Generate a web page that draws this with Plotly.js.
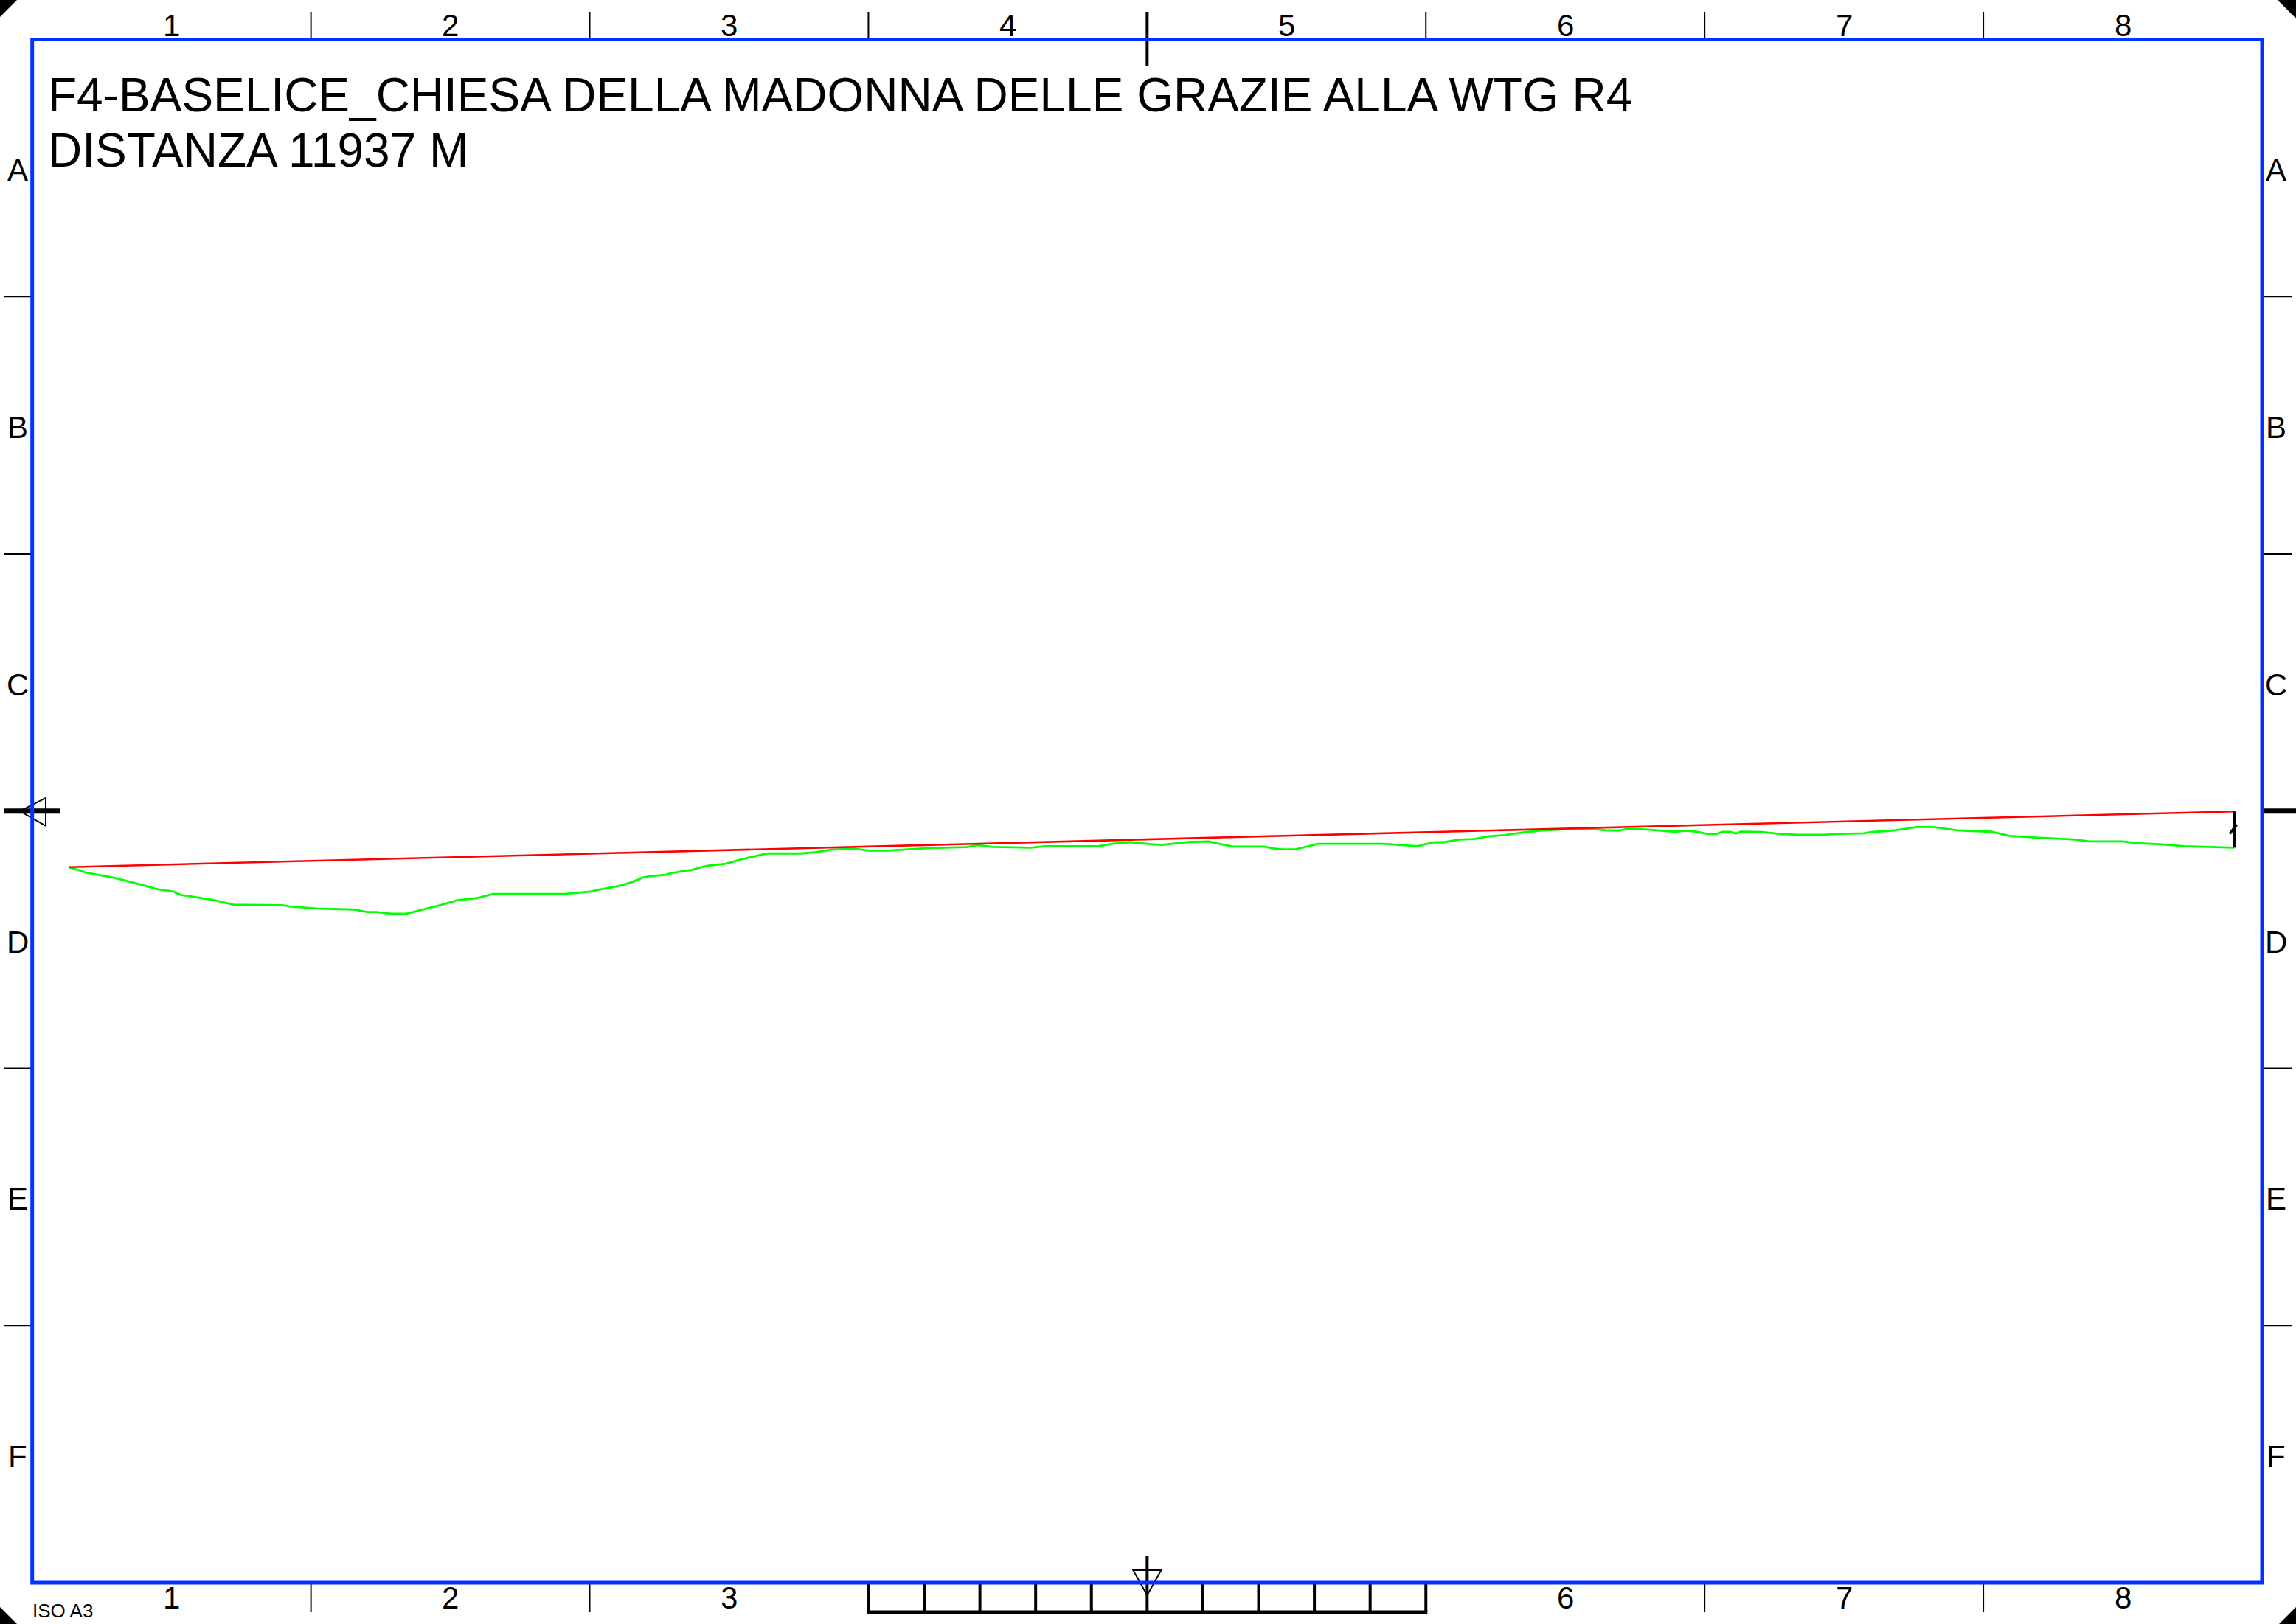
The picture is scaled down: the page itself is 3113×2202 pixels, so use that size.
<!DOCTYPE html>
<html><head><meta charset="utf-8">
<script src="https://cdn.plot.ly/plotly-3.0.1.min.js"></script>
<style>html,body{margin:0;padding:0;background:#fff;overflow:hidden}#chart{width:3113px;height:2202px}</style>
</head><body><div id="chart"></div>
<script>
// ---------- texts ----------
const titleLine1 = "F4-BASELICE_CHIESA DELLA MADONNA DELLE GRAZIE ALLA WTG R4";
const titleLine2 = "DISTANZA 11937 M";
const sheetLabel = "ISO A3";
const columnLabels = ["1","2","3","4","5","6","7","8"];
const rowLabels = ["A","B","C","D","E","F"];

// ---------- data (metres) ----------
const totalDistance = 11937;
const profileDistance = [0,97,243,346,492,575,616,699,803,906,
 1031,1176,1218,1363,1570,1643,1695,1778,1861,1944,
 2047,2141,2244,2338,2732,2800,2875,2958,3040,3103,
 3165,3206,3289,3331,3393,3435,3497,3539,3622,3704,
 3787,3850,4036,4119,4202,4327,4410,4514,4597,4742,
 4949,5011,5094,5219,5302,5385,5675,5758,5851,5966,
 6025,6088,6129,6170,6285,6336,6419,6586,6648,6689,
 6762,6814,6886,7249,7332,7436,7477,7529,7581,7623,
 7664,7747,7789,7830,7913,8017,8120,8245,8348,8431,
 8483,8546,8587,8660,8763,8857,8908,8960,9033,9085,
 9116,9158,9191,9215,9335,9435,9535,9676,9736,9896,
 9936,10057,10137,10187,10277,10338,10418,10598,10658,10698,
 10839,11059,11139,11320,11400,11540,11661,11921,11937];
const profileElevation = [615,584,557,532,492,480,462,448,432,408,
 408,405,398,387,381,367,367,358,358,378,
 405,432,443,467,467,473,480,497,513,532,
 557,565,573,584,592,600,617,625,634,657,
 676,690,690,698,711,717,706,706,711,720,
 725,736,726,722,722,730,730,744,752,741,
 737,744,747,753,756,744,728,728,717,713,
 713,726,743,743,736,730,741,752,752,761,
 767,770,779,785,791,806,817,822,828,822,
 817,817,825,825,816,810,816,812,798,798,
 809,809,800,810,808,797,793,793,797,801,
 808,817,828,836,836,828,817,810,797,787,
 778,767,757,757,747,740,730,725,722];
const observerElevation = 615;
const turbineBaseElevation = 722;
const turbineHubHeight = 122;
const turbineTipHeight = 200;

// ---------- page geometry ----------
const W = 3113, H = 2202;
const X = p => p / W, Y = p => 1 - p / H;
const fl = 43.7, fr = 3067, ft = 53.6, fb = 2146;
const colW = (fr - fl) / 8, rowH = (fb - ft) / 6;
const cx = fl + 4 * colW, cy = ft + 3 * rowH;
const BLUE = '#0033FF', BLACK = '#000000';
const FONT = 'Liberation Sans, Arial, Helvetica, sans-serif';

// data-to-pixel mapping (same scale on both axes)
const startPx = 93.4, endPx = 3029.3, startPy = 1175.7;
const pxPerM = (endPx - startPx) / totalDistance;
const xRange = [-startPx / pxPerM, (W - startPx) / pxPerM];
const yRange = [observerElevation - (H - startPy) / pxPerM, observerElevation + startPy / pxPerM];

function ln(x0, y0, x1, y1, color, width) {
  return {type:'line', xref:'paper', yref:'paper', x0:X(x0), y0:Y(y0), x1:X(x1), y1:Y(y1), line:{color:color, width:width}};
}
function poly(pts, fill, color, width) {
  const path = 'M' + pts.map(p => X(p[0]) + ',' + Y(p[1])).join('L') + 'Z';
  return {type:'path', xref:'paper', yref:'paper', path:path, fillcolor:fill, line:{color:color, width:width}};
}

const shapes = [];
for (let k = 1; k <= 7; k++) {
  const x = fl + k * colW;
  if (k === 4) shapes.push(ln(x, 16, x, 90, BLACK, 4));
  else shapes.push(ln(x, 16, x, ft, BLACK, 2));
  if (k === 1 || k === 2 || k === 6 || k === 7) shapes.push(ln(x, fb, x, 2186, BLACK, 2));
}
for (let k = 1; k <= 5; k++) {
  const y = ft + k * rowH;
  if (k === 3) continue;
  shapes.push(ln(6, y, fl, y, BLACK, 2));
  shapes.push(ln(fr, y, 3107, y, BLACK, 2));
}
// scale bar at bottom
const sb0 = fl + 3 * colW, sb1 = fl + 5 * colW;
for (let i = 0; i <= 10; i++) {
  const x = sb0 + i * (sb1 - sb0) / 10;
  if (i === 5) continue;
  shapes.push(ln(x, fb, x, 2186, BLACK, 4));
}
shapes.push(ln(sb0 - 2, 2186, sb1 + 2, 2186, BLACK, 5));
shapes.push(ln(cx, 2110, cx, 2186, BLACK, 4));
shapes.push(poly([[cx - 19, 2129], [cx + 19, 2129], [cx, 2163]], 'rgba(0,0,0,0)', BLACK, 2));
// centre row markers
shapes.push(ln(6, cy, 82, cy, BLACK, 7));
shapes.push(poly([[27, cy], [62, cy - 18], [62, cy + 20]], 'rgba(0,0,0,0)', BLACK, 2));
shapes.push(ln(fr, cy, W, cy, BLACK, 7));
// corner triangles
shapes.push(poly([[0,0],[23,0],[0,23]], BLACK, BLACK, 0));
shapes.push(poly([[W-25,0],[W,0],[W,25]], BLACK, BLACK, 0));
shapes.push(poly([[0,H-23],[0,H],[23,H]], BLACK, BLACK, 0));
shapes.push(poly([[W,H-23],[W,H],[W-23,H]], BLACK, BLACK, 0));
// blue frame
shapes.push({type:'rect', xref:'paper', yref:'paper', x0:X(fl), y0:Y(fb), x1:X(fr), y1:Y(ft), line:{color:BLUE, width:5}});

// ---------- annotations ----------
const annotations = [];
function txt(text, x, y, size, xanchor) {
  annotations.push({text:text, x:X(x), y:Y(y), xref:'paper', yref:'paper', showarrow:false,
    xanchor:xanchor || 'center', yanchor:'middle', borderpad:0,
    font:{family:FONT, size:size, color:BLACK}});
}
columnLabels.forEach((c, i) => {
  const x = fl + (i + 0.5) * colW;
  txt(c, x, 35, 42);
  if (i !== 3 && i !== 4) txt(c, x, 2166, 42);
});
rowLabels.forEach((r, i) => {
  const y = ft + (i + 0.5) * rowH + 3;
  txt(r, 24, y, 42);
  txt(r, 3086, y, 42);
});
txt(titleLine1, 64, 129, 64, 'left');
txt(titleLine2, 64, 204, 64, 'left');
txt(sheetLabel, 43, 2184, 26, 'left');

// ---------- traces ----------
const tipElev = turbineBaseElevation + turbineTipHeight;
const hubElev = turbineBaseElevation + turbineHubHeight;
const traces = [
  {x: profileDistance, y: profileElevation, type:'scatter', mode:'lines',
   line:{color:'#00FF00', width:2.8}, hoverinfo:'skip', showlegend:false},
  {x: [0, totalDistance], y: [observerElevation, tipElev], type:'scatter', mode:'lines',
   line:{color:'#FF0000', width:2.6}, hoverinfo:'skip', showlegend:false},
  {x: [totalDistance, totalDistance], y: [turbineBaseElevation, tipElev], type:'scatter', mode:'lines',
   line:{color:BLACK, width:3.5}, hoverinfo:'skip', showlegend:false},
  {x: [totalDistance + 14, totalDistance - 25], y: [hubElev + 6, hubElev - 45], type:'scatter', mode:'lines',
   line:{color:BLACK, width:3.5}, hoverinfo:'skip', showlegend:false}
];

const layout = {
  width: W, height: H,
  margin: {l:0, r:0, t:0, b:0, pad:0},
  paper_bgcolor:'#FFFFFF', plot_bgcolor:'#FFFFFF',
  showlegend:false,
  xaxis:{range:xRange, visible:false, showgrid:false, zeroline:false, fixedrange:true},
  yaxis:{range:yRange, visible:false, showgrid:false, zeroline:false, fixedrange:true},
  shapes: shapes,
  annotations: annotations
};
Plotly.newPlot('chart', traces, layout, {staticPlot:true, displayModeBar:false});
</script>
</body></html>
